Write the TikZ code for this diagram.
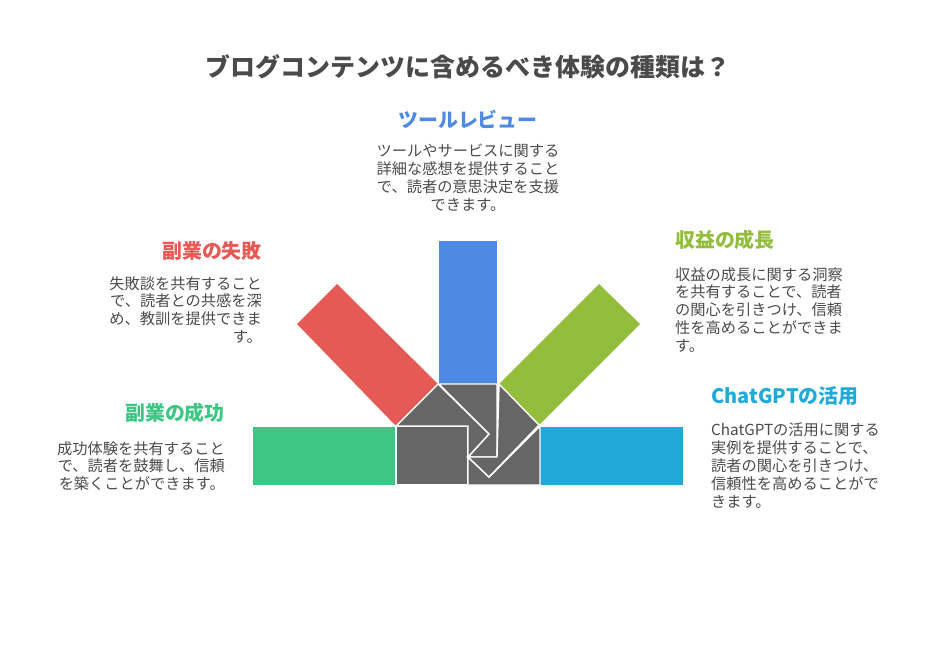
\documentclass[tikz,border=0pt]{standalone}
\usepackage{fontspec}
\setmainfont{Noto Sans CJK JP}
\usetikzlibrary{positioning}
\definecolor{cRed}{HTML}{E55A54}
\definecolor{cBlue}{HTML}{4E89E4}
\definecolor{cLime}{HTML}{93BD3C}
\definecolor{cGreen}{HTML}{3EC685}
\definecolor{cCyan}{HTML}{21AAD9}
\definecolor{cHub}{HTML}{666666}
\definecolor{cText}{HTML}{4A4A4A}
\tikzset{
  hub/.style={fill=cHub,draw=white,line width=1.2pt,line join=miter},
  head/.style={font=\bfseries\fontsize{17}{20}\selectfont,inner sep=0pt},
  desc/.style={font=\fontsize{13}{15.2}\selectfont,text=cText,inner sep=0pt},
}
\begin{document}
\begin{tikzpicture}[x=0.03cm,y=-0.03cm]
\useasboundingbox (0,0) rectangle (936,648);

%Bars
\fill[cGreen] (253,427) rectangle (396,485);
\fill[cCyan] (540,427) rectangle (683,485);
\fill[cBlue] (439,241) rectangle (497,384);
\fill[cRed] (297,324) -- (337,284) -- (438,384) -- (396,426) -- cycle;
\fill[cLime] (499,384) -- (599,284) -- (640,324) -- (539,425) -- cycle;

%Hub
\draw[hub] (396,426) rectangle (468,485);
\draw[hub] (468,457) -- (489,477) -- (540,426) -- (540,485) -- (468,485) -- cycle;
\draw[hub] (439,384) -- (497,384) -- (497,457) -- (468,457) -- (489,434) -- cycle;
\draw[hub] (499,384) -- (539,425) -- (489,477) -- (468,457) -- (497,457) -- cycle;
\draw[hub] (396,426) -- (438,384) -- (489,434) -- (468,457) -- (468,426) -- cycle;

%Texts
\node (title) [font=\bfseries\fontsize{21.3}{24}\selectfont,text=cText] at (468,67) {ブログコンテンツに含めるべき体験の種類は？};

\node (toolHead) [head,text=cBlue] at (468,119) {ツールレビュー};
\node (toolDesc) [desc,align=center,anchor=north] at (468,144) {ツールやサービスに関する\\詳細な感想を提供すること\\で、読者の意思決定を支援\\できます。};

\node (failHead) [head,text=cRed,anchor=east] at (262,251) {副業の失敗};
\node (failDesc) [desc,align=right,anchor=north east] at (262,276) {失敗談を共有すること\\で、読者との共感を深\\め、教訓を提供できま\\す。};

\node (growHead) [head,text=cLime,anchor=west] at (675,240) {収益の成長};
\node (growDesc) [desc,align=left,anchor=north west] at (675,267) {収益の成長に関する洞察\\を共有することで、読者\\の関心を引きつけ、信頼\\性を高めることができま\\す。};

\node (gptHead) [head,text=cCyan,anchor=west] at (711,396) {ChatGPTの活用};
\node (gptDesc) [desc,align=left,anchor=north west] at (711,423) {ChatGPTの活用に関する\\実例を提供することで、\\読者の関心を引きつけ、\\信頼性を高めることがで\\きます。};

\node (winHead) [head,text=cGreen,anchor=east] at (225,413) {副業の成功};
\node (winDesc) [desc,align=right,anchor=north east] at (225,441) {成功体験を共有すること\\で、読者を鼓舞し、信頼\\を築くことができます。};
\end{tikzpicture}
\end{document}
